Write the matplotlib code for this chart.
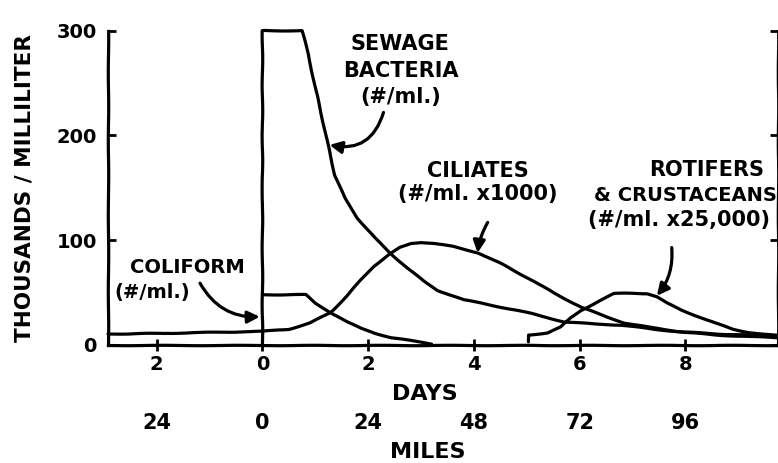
import matplotlib
matplotlib.use("Agg")
import matplotlib.pyplot as plt

# values (x = days, y = thousands / ml)
sewage_days = [0, 0, 0.75, 0.87, 0.99, 1.12, 1.24, 1.37, 1.56, 1.8, 2.13, 2.41,
               2.75, 3.05, 3.32, 3.81, 4.14, 4.52, 5.09, 5.71, 6.3, 6.79, 7.4,
               7.93, 8.6, 9.2, 9.75]
sewage_vals = [0, 300, 300, 277, 248, 219, 191, 162, 140, 121, 102, 88,
               73, 61, 52, 43, 40, 36, 30, 22, 20, 19, 15,
               12.5, 10.5, 9.5, 8]

ciliate_days = [-2.92, -2, -1, 0, 0.5, 0.9, 1.29, 1.6, 1.86, 2.1, 2.39, 2.6,
                2.81, 3.0, 3.24, 3.6, 4.08, 4.5, 5.09, 5.5, 6.03, 6.5, 6.85,
                7.3, 8.0, 8.6, 9.2, 9.75]
ciliate_vals = [10.5, 11, 12, 13, 15, 21, 31, 47, 62, 75, 86, 93,
                97, 98, 97, 94, 88, 78, 62, 50, 36, 27, 21,
                17, 12, 9.5, 8, 7]

coliform_days = [0, 0.82, 1.0, 1.29, 1.6, 1.86, 2.15, 2.43, 2.7, 2.94, 3.2]
coliform_vals = [48, 48, 40, 31, 22, 16, 11, 7, 5, 3, 1]

rotifer_days = [5.03, 5.03, 5.2, 5.39, 5.64, 5.83, 6.02, 6.22, 6.45, 6.65, 6.85,
                7.04, 7.28, 7.46, 7.65, 7.93, 8.25, 8.56, 8.9, 9.2, 9.5, 9.75]
rotifer_vals = [3, 9.5, 10.5, 11.5, 17, 26, 33, 38, 44, 49, 49.5,
                49.5, 49, 46, 40, 33, 27, 21, 15, 12, 10, 9]

day_ticks = [-2, 0, 2, 4, 6, 8]
day_labels = ["2", "0", "2", "4", "6", "8"]
mile_labels = ["24", "0", "24", "48", "72", "96"]
y_ticks = [0, 100, 200, 300]

plt.rcParams["font.family"] = ["DejaVu Sans"]
plt.rcParams["font.weight"] = "bold"

fig = plt.figure(figsize=(7.78, 4.63), dpi=100)
ax = fig.add_axes([108 / 778, 118 / 463, 670 / 778, 314.3 / 463])

lw = 2.3
sketch = (0.3, 60, 2)
for xs, ys in [(sewage_days, sewage_vals), (ciliate_days, ciliate_vals),
               (coliform_days, coliform_vals), (rotifer_days, rotifer_vals)]:
    ln, = ax.plot(xs, ys, color="black", lw=lw, solid_joinstyle="round",
                  solid_capstyle="round", clip_on=False)
    ln.set_sketch_params(*sketch)

ax.set_xlim(-2.92, 9.75)
ax.set_ylim(0, 300)

ax.spines["top"].set_visible(False)
for s in ["left", "bottom", "right"]:
    ax.spines[s].set_linewidth(lw)
    ax.spines[s].set_sketch_params(0.2, 80, 2)

ax.set_xticks(day_ticks)
ax.set_xticklabels(day_labels)
ax.set_yticks(y_ticks)
ax.tick_params(axis="x", direction="inout", length=9, width=2, pad=3, labelsize=14)
ax.tick_params(axis="y", direction="in", length=6, width=2, pad=8, labelsize=14,
               right=True)

# miles row and axis titles
xt = ax.get_xaxis_transform()
for d, m in zip(day_ticks, mile_labels):
    ax.text(d, -0.248, m, transform=xt, ha="center", va="center", fontsize=15)
ax.text(3.07, -0.156, "DAYS", transform=xt, ha="center", va="center", fontsize=16)
ax.text(3.12, -0.34, "MILES", transform=xt, ha="center", va="center", fontsize=16)
fig.text(25 / 778, 1 - 188 / 463, "THOUSANDS / MILLILITER", rotation=90,
         ha="center", va="center", fontsize=15.5)

# curve labels
ax.text(2.61, 262, "SEWAGE\nBACTERIA\n(#/ml.)", ha="center", va="center",
        fontsize=15, linespacing=1.4)
ax.text(4.07, 155, "CILIATES\n(#/ml. x1000)", ha="center", va="center",
        fontsize=15, linespacing=1.2)
ax.text(8.4, 167, "ROTIFERS", ha="center", va="center", fontsize=15)
ax.text(9.72, 143, "& CRUSTACEANS", ha="right", va="center", fontsize=14)
ax.text(7.87, 119, "(#/ml. x25,000)", ha="center", va="center", fontsize=15)
ax.text(-2.5, 74, "COLIFORM", ha="left", va="center", fontsize=14)
ax.text(-2.79, 50, "(#/ml.)", ha="left", va="center", fontsize=14)

arrows = [((1.27, 191), (2.29, 222), -0.45),
          ((4.07, 88), (4.26, 117), 0.1),
          ((7.46, 47), (7.74, 93), -0.2),
          ((-0.05, 27), (-1.18, 59), 0.3)]
for tip, tail, rad in arrows:
    ax.annotate("", xy=tip, xytext=tail,
                arrowprops=dict(arrowstyle="-|>", color="black", lw=lw,
                                mutation_scale=18, shrinkA=0, shrinkB=0,
                                connectionstyle=f"arc3,rad={rad}"))

fig.savefig("out.png", dpi=100)
